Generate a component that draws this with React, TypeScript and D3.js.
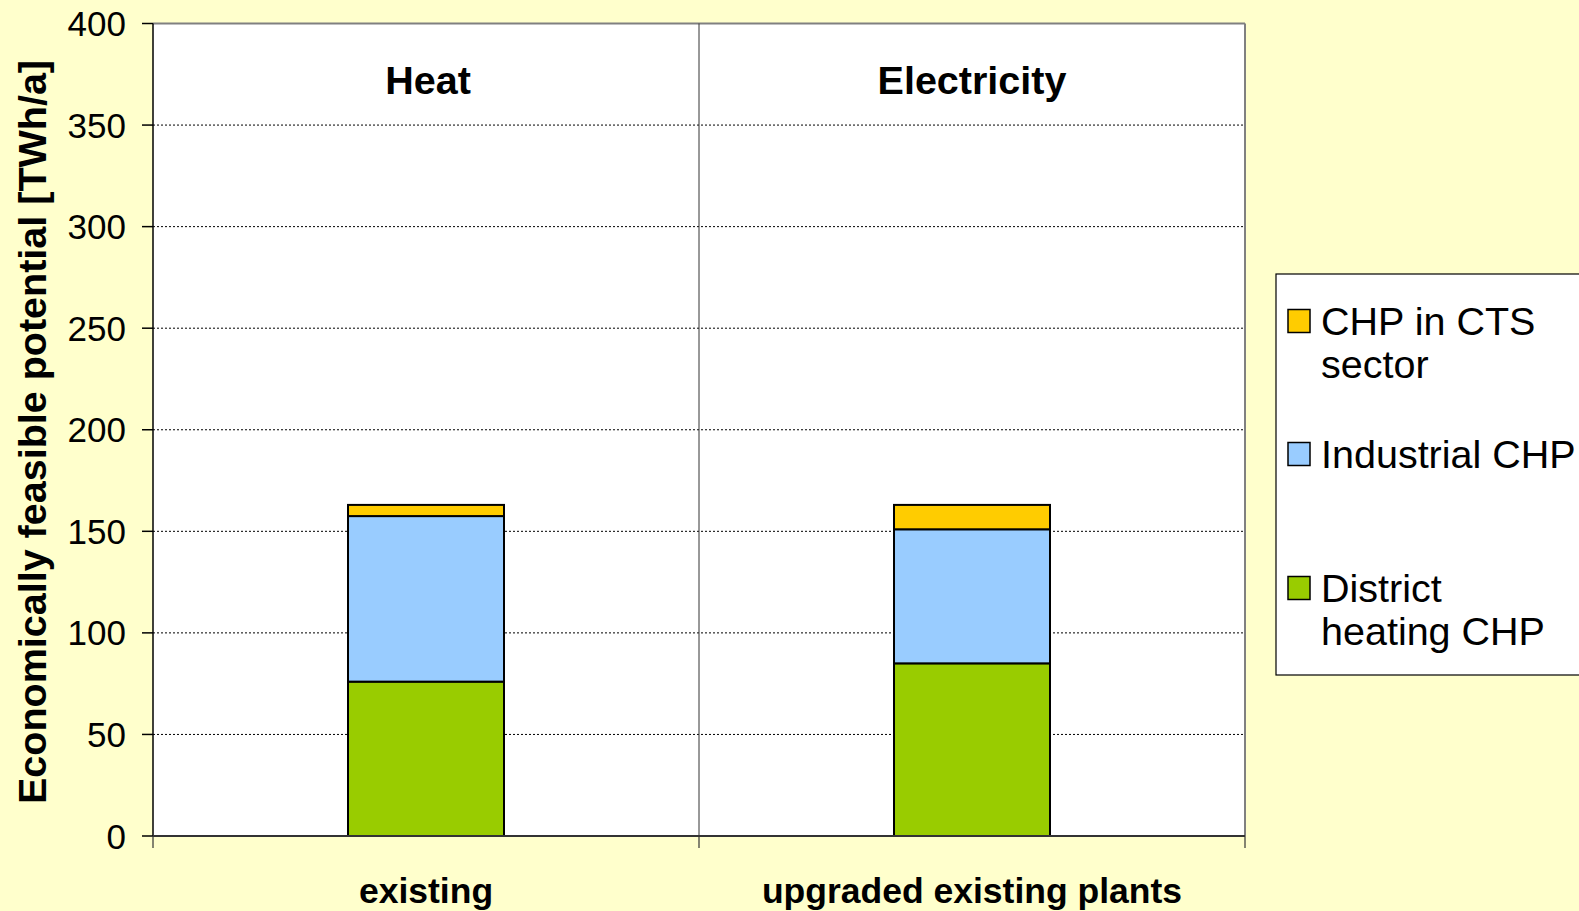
import React from "react";
import * as d3 from "d3";

const categories = ["existing", "upgraded existing plants"];
const panelTitles = ["Heat", "Electricity"];
const seriesNames = ["District heating CHP", "Industrial CHP", "CHP in CTS sector"];
const districtHeating = [76, 85];
const industrial = [81.5, 66];
const cts = [5.5, 12];
const yTicks = [0, 50, 100, 150, 200, 250, 300, 350, 400];
const legendLines: string[][] = [["CHP in CTS", "sector"], ["Industrial CHP"], ["District", "heating CHP"]];

const colors: Record<string, string> = {
  "District heating CHP": "#99CC00",
  "Industrial CHP": "#99CCFF",
  "CHP in CTS sector": "#FFCC00",
};

export default function App() {
  const W = 1579, H = 911;
  const left = 153, right = 1245, top = 23.5, bottom = 836;
  const font = "Liberation Sans, Arial, sans-serif";

  const x = d3.scaleBand<string>().domain(categories).range([left, right]).paddingInner(0).paddingOuter(0);
  const y = d3.scaleLinear().domain([0, 400]).range([bottom, top]);
  const barW = x.bandwidth() * 0.2857;

  const rows = categories.map((c, i) => ({
    cat: c,
    "District heating CHP": districtHeating[i],
    "Industrial CHP": industrial[i],
    "CHP in CTS sector": cts[i],
  }));
  const stack = d3.stack<any>().keys(seriesNames)(rows);

  const legendOrder = ["CHP in CTS sector", "Industrial CHP", "District heating CHP"];
  const legendY = [321, 454, 588];

  return (
    <svg width={W} height={H} style={{ position: "absolute", left: 0, top: 0, display: "block" }} fontFamily={font}>
      <rect x={0} y={0} width={W} height={H} fill="#FFFFCC" />
      <rect x={left} y={top} width={right - left} height={bottom - top} fill="#FFFFFF" />
      {/* gridlines */}
      {yTicks.filter((t) => t > 0 && t < 400).map((t) => (
        <line key={t} x1={left} x2={right} y1={y(t)} y2={y(t)} stroke="#000" strokeWidth={1} strokeDasharray="2,2" />
      ))}
      {/* plot border top/right */}
      <line x1={left} x2={right} y1={top} y2={top} stroke="#808080" strokeWidth={2} />
      <line x1={right} x2={right} y1={top} y2={bottom} stroke="#808080" strokeWidth={2} />
      {/* divider */}
      <line x1={x(categories[1])!} x2={x(categories[1])!} y1={top} y2={bottom} stroke="#333" strokeWidth={1} />
      {/* bars */}
      {stack.map((s) =>
        s.map((d, i) => (
          <rect
            key={s.key + i}
            x={x(categories[i])! + x.bandwidth() / 2 - barW / 2}
            y={y(d[1])}
            width={barW}
            height={y(d[0]) - y(d[1])}
            fill={colors[s.key]}
            stroke="#000"
            strokeWidth={2}
          />
        ))
      )}
      {/* y axis */}
      <line x1={left} x2={left} y1={top} y2={bottom} stroke="#000" strokeWidth={1.5} />
      {yTicks.map((t) => (
        <g key={t}>
          <line x1={left - 11} x2={left} y1={y(t)} y2={y(t)} stroke="#000" strokeWidth={1.5} />
          <text x={126} y={y(t)} dy="0.36em" textAnchor="end" fontSize={35}>
            {t}
          </text>
        </g>
      ))}
      {/* x axis */}
      <line x1={left} x2={right} y1={bottom} y2={bottom} stroke="#333" strokeWidth={2} />
      {[left, x(categories[1])!, right].map((v, i) => (
        <line key={i} x1={v} x2={v} y1={bottom} y2={bottom + 12} stroke="#333" strokeWidth={1.2} />
      ))}
      {categories.map((c) => (
        <text key={c} x={x(c)! + x.bandwidth() / 2} y={903} textAnchor="middle" fontSize={35.5} fontWeight="bold">
          {c}
        </text>
      ))}
      {panelTitles.map((t, i) => (
        <text key={t} x={x(categories[i])! + x.bandwidth() / 2 + (i === 0 ? 2 : 0)} y={94} textAnchor="middle" fontSize={39.5} fontWeight="bold">
          {t}
        </text>
      ))}
      {/* y title */}
      <text transform={`translate(46,432) rotate(-90)`} textAnchor="middle" fontSize={39.5} fontWeight="bold">
        Economically feasible potential [TWh/a]
      </text>
      {/* legend */}
      <rect x={1276} y={274} width={340} height={401} fill="#FFFFFF" stroke="#000" strokeWidth={1.2} />
      {legendOrder.map((k, i) => (
        <g key={k}>
          <rect x={1288} y={legendY[i] - 11.5} width={22} height={23} fill={colors[k]} stroke="#000" strokeWidth={1.5} />
          {legendLines[i].map((ln, j) => (
            <text key={j} x={1321} y={legendY[i] + 13.5 + j * 43.5} fontSize={39.5}>
              {ln}
            </text>
          ))}
        </g>
      ))}
    </svg>
  );
}
